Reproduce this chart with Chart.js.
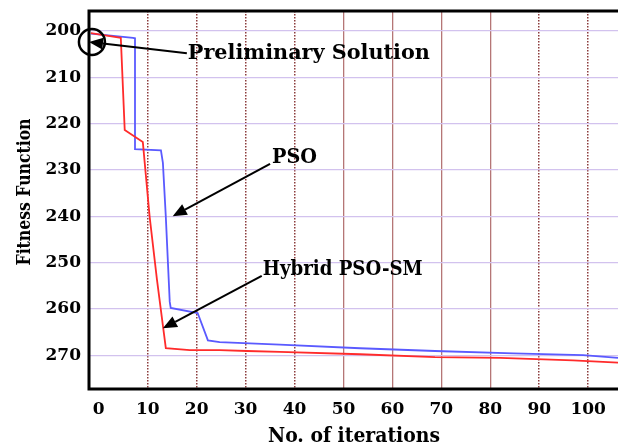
<!DOCTYPE html>
<html>
<head>
  <title>PSO convergence</title>
  <script src="https://cdn.jsdelivr.net/npm/chart.js"></script>
  <style>
    html, body { margin: 0; padding: 0; background: #fff; overflow: hidden; }
  </style>
</head>
<body>
  <canvas id="chart" width="618" height="448"></canvas>
  <script>
    // fitness per iteration
    const hybridIter = [-1.6, 3.9, 4.5, 5.3, 9.0, 10.4, 11.9, 13.7, 18.6, 24.7, 30.3, 37.0, 53.4, 68.7, 82.0, 96.9, 106.1];
    const hybridFit  = [200.5, 201.4, 201.5, 221.4, 224.0, 240.2, 253.8, 268.5, 268.9, 268.9, 269.1, 269.3, 269.8, 270.4, 270.6, 271.1, 271.6];
    const psoIter = [-1.6, 7.0, 7.4, 7.4, 12.7, 13.1, 13.7, 14.5, 14.7, 20.2, 22.3, 24.7, 37.0, 53.4, 68.7, 84.7, 99.0, 106.1];
    const psoFit  = [200.6, 201.5, 201.6, 225.5, 225.8, 228.5, 240.2, 258.5, 259.8, 260.9, 266.8, 267.2, 267.7, 268.5, 269.1, 269.6, 270.0, 270.6];
    const xTicks = [0, 10, 20, 30, 40, 50, 60, 70, 80, 90, 100];
    const yTicks = [200, 210, 220, 230, 240, 250, 260, 270];
    const solidLines = [50, 60, 70, 80];

    const FONT = '"DejaVu Serif", serif';

    const toPoints = (xs, ys) => xs.map((x, i) => ({ x: x, y: ys[i] }));

    // callouts, placed in data units
    const callouts = [
      { text: 'Preliminary Solution', at: [18.2, 204.8], width: 242, from: [18.0, 204.8], to: [-2.0, 202.4] },
      { text: 'PSO', at: [35.4, 227.4], width: 45, from: [35.0, 228.7], to: [15.1, 240.0] },
      { text: 'Hybrid PSO-SM', at: [33.5, 251.6], width: 160, from: [33.3, 252.9], to: [13.1, 264.2] }
    ];

    // draw text at a given size, squeezed sideways to a given width
    function fitText(ctx, text, x, y, size, width, align) {
      ctx.font = 'bold ' + size + 'px ' + FONT;
      const sx = width / ctx.measureText(text).width;
      ctx.save();
      ctx.translate(x, y);
      ctx.scale(sx, 1);
      ctx.textAlign = align;
      ctx.textBaseline = 'middle';
      ctx.fillText(text, 0, 0);
      ctx.restore();
    }

    function arrow(ctx, x1, y1, x2, y2) {
      const a = Math.atan2(y2 - y1, x2 - x1);
      const len = 14, half = 6;
      const bx = x2 - len * Math.cos(a), by = y2 - len * Math.sin(a);
      ctx.beginPath();
      ctx.moveTo(x1, y1);
      ctx.lineTo(bx, by);
      ctx.stroke();
      ctx.beginPath();
      ctx.moveTo(x2, y2);
      ctx.lineTo(bx + half * Math.sin(a), by - half * Math.cos(a));
      ctx.lineTo(bx - half * Math.sin(a), by + half * Math.cos(a));
      ctx.closePath();
      ctx.fill();
    }

    const frameAndNotes = {
      id: 'frameAndNotes',
      afterDatasetsDraw(chart) {
        const { ctx, chartArea: a, scales: { x, y } } = chart;
        ctx.save();
        ctx.strokeStyle = '#000';
        ctx.fillStyle = '#000';

        // heavy frame: top, left, bottom
        ctx.lineWidth = 3;
        ctx.beginPath();
        ctx.moveTo(a.right, a.top);
        ctx.lineTo(a.left, a.top);
        ctx.lineTo(a.left, a.bottom);
        ctx.lineTo(a.right, a.bottom);
        ctx.stroke();

        // circle round the starting point
        ctx.lineWidth = 2.5;
        ctx.beginPath();
        ctx.arc(x.getPixelForValue(-1.4), y.getPixelForValue(202.4), 13, 0, Math.PI * 2);
        ctx.stroke();

        ctx.lineWidth = 2;
        callouts.forEach(c => {
          arrow(ctx, x.getPixelForValue(c.from[0]), y.getPixelForValue(c.from[1]),
                x.getPixelForValue(c.to[0]), y.getPixelForValue(c.to[1]));
          fitText(ctx, c.text, x.getPixelForValue(c.at[0]), y.getPixelForValue(c.at[1]), 21, c.width, 'left');
        });

        // axis titles
        fitText(ctx, 'No. of iterations', 354, 437, 21, 172, 'center');
        ctx.save();
        ctx.translate(25, 192);
        ctx.rotate(-Math.PI / 2);
        fitText(ctx, 'Fitness Function', 0, 0, 19, 147, 'center');
        ctx.restore();

        ctx.restore();
      }
    };

    const ctx = document.getElementById('chart').getContext('2d');
    new Chart(ctx, {
      type: 'line',
      data: {
        datasets: [{
          label: 'Hybrid PSO-SM',
          data: toPoints(hybridIter, hybridFit),
          borderColor: '#ff2b2b',
          borderWidth: 1.8,
          pointRadius: 0,
          tension: 0
        }, {
          label: 'PSO',
          data: toPoints(psoIter, psoFit),
          borderColor: '#5a5aff',
          borderWidth: 1.8,
          pointRadius: 0,
          tension: 0
        }]
      },
      options: {
        responsive: false,
        animation: false,
        devicePixelRatio: 1,
        layout: { padding: { top: 11, left: 0, right: 0, bottom: 0 } },
        plugins: {
          legend: { display: false },
          tooltip: { enabled: false }
        },
        scales: {
          x: {
            type: 'linear',
            min: -2,
            max: 106.1,
            afterBuildTicks: s => { s.ticks = xTicks.map(v => ({ value: v })); },
            afterFit: s => { s.height = 59; s.paddingLeft = 0; s.paddingRight = 0; },
            ticks: {
              color: '#000',
              padding: 10,
              font: { family: FONT, size: 17, weight: 'bold' }
            },
            grid: {
              drawTicks: false,
              color: c => c.tick && c.tick.value === 0 ? 'rgba(0,0,0,0)' :
                (solidLines.includes(c.tick && c.tick.value) ? 'rgba(150,60,60,0.7)' : '#8c3c3c'),
              lineWidth: c => solidLines.includes(c.tick && c.tick.value) ? 1.3 : 1.5
            },
            border: {
              display: false,
              dash: c => solidLines.includes(c.tick && c.tick.value) ? [] : [1.5, 1.5]
            }
          },
          y: {
            type: 'linear',
            reverse: true,
            min: 195.7,
            max: 277.3,
            afterBuildTicks: s => { s.ticks = yTicks.map(v => ({ value: v })); },
            afterFit: s => { s.width = 89; s.paddingTop = 0; s.paddingBottom = 0; },
            ticks: {
              color: '#000',
              padding: 8,
              font: { family: FONT, size: 17, weight: 'bold' }
            },
            grid: {
              drawTicks: false,
              color: '#d2c2ee',
              lineWidth: 1.2
            },
            border: { display: false }
          }
        }
      },
      plugins: [frameAndNotes]
    });
  </script>
</body>
</html>
